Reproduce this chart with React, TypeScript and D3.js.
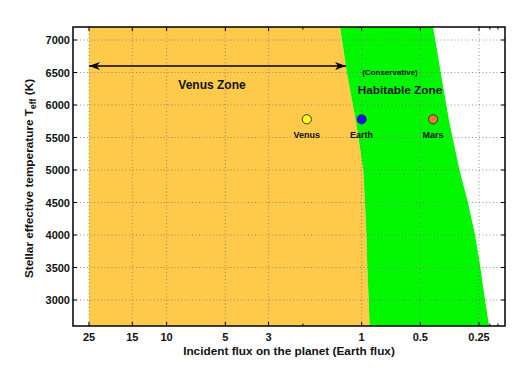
import * as d3 from "d3";

// flux in Earth units, temperature in K
const tempSamples = [7200, 6500, 5750, 5000, 4500, 4000, 3500, 3000, 2600];
const innerEdge = [1.29, 1.19, 1.07, 0.98, 0.962, 0.945, 0.935, 0.92, 0.91];
const outerEdge = [0.43, 0.393, 0.356, 0.315, 0.285, 0.262, 0.246, 0.233, 0.222];

const fluxTicks = [25, 15, 10, 5, 3, 1, 0.5, 0.25];
const fluxMinor = [2, 0.22, 0.2];
const tempTicks = [3000, 3500, 4000, 4500, 5000, 5500, 6000, 6500, 7000];

const planets = [
  { name: "Venus", flux: 1.91, temp: 5780, color: "#ffff1a" },
  { name: "Earth", flux: 1, temp: 5780, color: "#1010ff" },
  { name: "Mars", flux: 0.43, temp: 5780, color: "#f57a2c" },
];

const venusLimit = 25;
const arrowTemp = 6600;

const W = 520, H = 369;
const margin = { top: 27, right: 15, bottom: 43, left: 73 };
const font = "'Liberation Sans', Arial, sans-serif";

export default function App() {
  const x = d3.scaleLog().domain([30.2, 0.184]).range([margin.left, W - margin.right]);
  const y = d3.scaleLinear().domain([2600, 7200]).range([H - margin.bottom, margin.top]);
  const x0 = margin.left, x1 = W - margin.right;
  const y0 = margin.top, y1 = H - margin.bottom;

  const rows = tempSamples.map((t, i) => ({ t, inner: innerEdge[i], outer: outerEdge[i] }));

  const venusArea = d3.area<any>()
    .y((d) => y(d.t))
    .x0(() => x(venusLimit))
    .x1((d) => x(d.inner))(rows)!;

  const hzArea = d3.area<any>()
    .y((d) => y(d.t))
    .x0((d) => x(d.inner))
    .x1((d) => x(d.outer))(rows)!;

  // arrow end sits on the inner edge at the arrow's temperature
  const arrowEnd = x(d3.scaleLinear().domain(tempSamples).range(innerEdge)(arrowTemp));
  const arrowStart = x(venusLimit);

  return (
    <svg width={W} height={H} style={{ display: "block", position: "absolute", left: 0, top: 0 }} fontFamily={font}>
      <rect width={W} height={H} fill="#fff" />
      <path d={venusArea} fill="#ffc94a" />
      <path d={hzArea} fill="#00f700" />

      {/* grid */}
      <g stroke="#777" strokeWidth={0.8} strokeDasharray="1,2.5">
        {fluxTicks.map((f) => (
          <line key={"gx" + f} x1={x(f)} x2={x(f)} y1={y0} y2={y1} />
        ))}
        {tempTicks.map((t) => (
          <line key={"gy" + t} x1={x0} x2={x1} y1={y(t)} y2={y(t)} />
        ))}
      </g>

      {/* ticks, inward on all sides */}
      <g stroke="#000" strokeWidth={1}>
        {fluxTicks.map((f) => (
          <g key={"tx" + f}>
            <line x1={x(f)} x2={x(f)} y1={y1} y2={y1 - 4} />
            <line x1={x(f)} x2={x(f)} y1={y0} y2={y0 + 4} />
          </g>
        ))}
        {fluxMinor.map((f) => (
          <g key={"mx" + f}>
            <line x1={x(f)} x2={x(f)} y1={y1} y2={y1 - 2.5} />
            <line x1={x(f)} x2={x(f)} y1={y0} y2={y0 + 2.5} />
          </g>
        ))}
        {tempTicks.map((t) => (
          <g key={"ty" + t}>
            <line x1={x0} x2={x0 + 4} y1={y(t)} y2={y(t)} />
            <line x1={x1} x2={x1 - 4} y1={y(t)} y2={y(t)} />
          </g>
        ))}
      </g>
      <rect x={x0} y={y0} width={x1 - x0} height={y1 - y0} fill="none" stroke="#000" strokeWidth={1.5} />

      {/* tick labels */}
      <g fontSize={11} fontWeight="bold" fill="#111">
        {fluxTicks.map((f) => (
          <text key={"lx" + f} x={x(f)} y={y1 + 15} textAnchor="middle">{f}</text>
        ))}
        {tempTicks.map((t) => (
          <text key={"ly" + t} x={x0 - 3} y={y(t) + 4} textAnchor="end">{t}</text>
        ))}
      </g>

      {/* axis titles */}
      <text x={289} y={354.5} textAnchor="middle" fontSize={11.8} fontWeight="bold" fill="#111">
        Incident flux on the planet (Earth flux)
      </text>
      <text transform={`translate(33,${(y0 + y1) / 2 + 2}) rotate(-90)`} textAnchor="middle" fontSize={11.8} fontWeight="bold" fill="#111">
        Stellar effective temperature T<tspan fontSize={8.5} dy={3}>eff</tspan><tspan dy={-3}> (K)</tspan>
      </text>

      {/* Venus zone arrow */}
      <defs>
        <marker id="ah" viewBox="0 0 10 10" refX={10} refY={5} markerWidth={11} markerHeight={9} orient="auto-start-reverse" markerUnits="userSpaceOnUse" preserveAspectRatio="none">
          <path d="M0,0.5 L10,5 L0,9.5 L3,5 Z" fill="#000" />
        </marker>
      </defs>
      <line x1={arrowStart} x2={arrowEnd} y1={y(arrowTemp)} y2={y(arrowTemp)} stroke="#000" strokeWidth={1.6}
        markerStart="url(#ah)" markerEnd="url(#ah)" />
      <text x={212} y={89} textAnchor="middle" fontSize={12} fontWeight="bold" fill="#111">Venus Zone</text>
      <text x={390} y={75} textAnchor="middle" fontSize={8} fontWeight="bold" fill="#111">(Conservative)</text>
      <text x={400} y={94} textAnchor="middle" fontSize={11.8} fontWeight="bold" fill="#111">Habitable Zone</text>

      {/* planets */}
      {planets.map((p) => (
        <g key={p.name}>
          <circle cx={x(p.flux)} cy={y(p.temp)} r={4.6} fill={p.color} stroke="#333" strokeWidth={1} />
          <text x={x(p.flux)} y={y(p.temp) + 19} textAnchor="middle" fontSize={9} fontWeight="bold" fill="#111">{p.name}</text>
        </g>
      ))}
    </svg>
  );
}
